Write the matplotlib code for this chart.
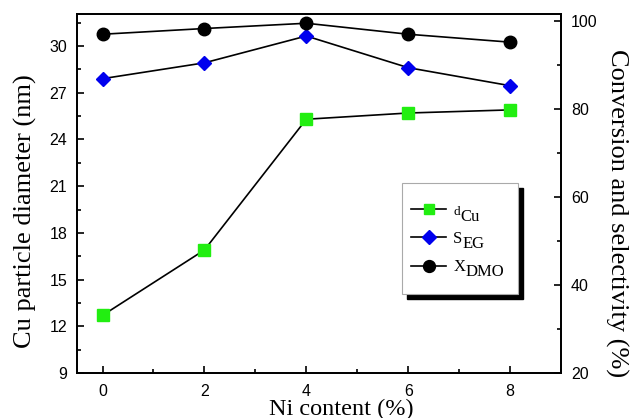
import matplotlib
matplotlib.use("Agg")
import matplotlib.pyplot as plt
from matplotlib.patches import Rectangle
from matplotlib.transforms import IdentityTransform
from matplotlib.ticker import MultipleLocator

# Data
ni_content = [0, 2, 4, 6, 8]
d_cu = [12.7, 16.9, 25.3, 25.7, 25.9]          # Cu particle diameter (nm), left axis
s_eg = [86.9, 90.5, 96.6, 89.4, 85.3]          # EG selectivity (%), right axis
x_dmo = [97.0, 98.3, 99.5, 97.0, 95.2]         # DMO conversion (%), right axis

xticks = [0, 2, 4, 6, 8]
left_ticks = [9, 12, 15, 18, 21, 24, 27, 30]
right_ticks = [20, 40, 60, 80, 100]

# legend labels: main symbol + subscript
leg_main = ['d', 'S', 'X']
leg_sub = ['Cu', 'EG', 'DMO']

serif = 'Liberation Serif'
sans = 'Liberation Sans'

fig = plt.figure(figsize=(6.34, 4.18), dpi=100)
ax = fig.add_axes([0.1215, 0.1077, 0.7635, 0.8588])
ax2 = ax.twinx()

l1, = ax.plot(ni_content, d_cu, color='black', lw=1.2, marker='s', ms=8,
              mfc='#22ee11', mec='#22ee11')
l2, = ax2.plot(ni_content, s_eg, color='black', lw=1.2, marker='D', ms=7,
               mfc='#0000ee', mec='#0000ee')
l3, = ax2.plot(ni_content, x_dmo, color='black', lw=1.2, marker='o', ms=9,
               mfc='black', mec='black')

ax.set_xlim(-0.5, 9)
ax.set_ylim(9, 32.06)
ax2.set_ylim(20, 101.6)

ax.set_xticks(xticks)
ax.xaxis.set_minor_locator(MultipleLocator(1))
ax.set_yticks(left_ticks)
ax.yaxis.set_minor_locator(MultipleLocator(1.5))
ax2.set_yticks(right_ticks)
ax2.yaxis.set_minor_locator(MultipleLocator(10))

for a in (ax, ax2):
    a.tick_params(which='major', direction='in', length=5, width=1.2,
                  labelsize=11.5, pad=7, top=False)
    a.tick_params(which='minor', direction='in', length=3, width=1.2, top=False)
    for lab in a.get_xticklabels() + a.get_yticklabels():
        lab.set_fontfamily(sans)
    for s in a.spines.values():
        s.set_linewidth(1.3)
ax.tick_params(axis='y', which='both', right=False)
ax.tick_params(axis='x', pad=8)

ax.set_xlabel('Ni content (%)', fontfamily=serif, fontsize=17.5, labelpad=0, x=0.545)
ax.set_ylabel('Cu particle diameter (nm)', fontfamily=serif, fontsize=19,
              labelpad=9, y=0.451)
ax2.set_ylabel('Conversion and selectivity (%)', fontfamily=serif, fontsize=19,
               rotation=270, labelpad=22, y=0.446)

# legend: content only, frame and shadow drawn separately
labels = [m + s for m, s in zip(leg_main, leg_sub)]
leg = ax2.legend(handles=[l1, l2, l3], labels=labels, loc='center',
                 bbox_to_anchor=(0.789, 0.372), borderaxespad=0, borderpad=0,
                 frameon=False, prop={'family': serif, 'size': 12.5},
                 handlelength=2.0, handletextpad=0.4, markerscale=0.95,
                 labelspacing=0.72)
leg.set_zorder(6)

fig.canvas.draw()
renderer = fig.canvas.get_renderer()

bb = leg.get_window_extent(renderer)
cx = (bb.x0 + bb.x1) / 2 + 1
cy = (bb.y0 + bb.y1) / 2 + 1
box_w, box_h = 116, 111
frame = Rectangle((cx - box_w / 2, cy - box_h / 2), box_w, box_h,
                  transform=IdentityTransform(), facecolor='white',
                  edgecolor='#aaaaaa', lw=0.8, zorder=5.6)
shadow = Rectangle((cx - box_w / 2 + 5, cy - box_h / 2 - 5), box_w, box_h,
                   transform=IdentityTransform(), color='black', zorder=5.5)
ax2.add_artist(shadow)
ax2.add_artist(frame)

# label text drawn as main letter with a lowered, full-size subscript
for i, t in enumerate(leg.get_texts()):
    tb = t.get_window_extent(renderer)
    yc = (tb.y0 + tb.y1) / 2
    if i == 0:
        m = ax2.text(tb.x0, yc - 1, leg_main[i], transform=IdentityTransform(),
                     fontfamily=serif, fontsize=9.5, ha='left', va='center', zorder=7)
        sub_dy = -6
    else:
        m = ax2.text(tb.x0, yc + 1, leg_main[i], transform=IdentityTransform(),
                     fontfamily=serif, fontsize=12, ha='left', va='center', zorder=7)
        sub_dy = -4
    mb = m.get_window_extent(renderer)
    ax2.text(mb.x1 + 0.5, yc + sub_dy, leg_sub[i], transform=IdentityTransform(),
             fontfamily=serif, fontsize=12, ha='left', va='center', zorder=7)
    t.set_visible(False)

fig.savefig('out.png', dpi=100)
